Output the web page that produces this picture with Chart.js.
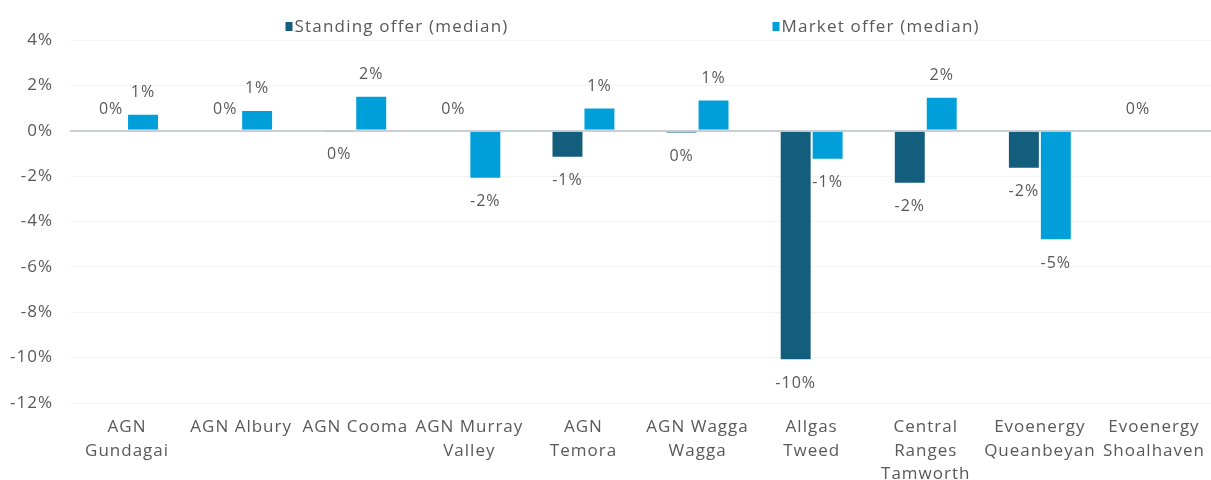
<!DOCTYPE html>
<html>
<head>
<meta charset="utf-8">
<script src="https://cdn.jsdelivr.net/npm/chart.js@4.4.1/dist/chart.umd.min.js"></script>
<style>
  html, body { margin: 0; padding: 0; background: #fff; }
  #wrap { width: 1211px; height: 480px; }
</style>
</head>
<body>
<div id="wrap"><canvas id="barCanvas"></canvas></div>
<script>
const categories = [
    ["AGN", "Gundagai"],
    ["AGN Albury"],
    ["AGN Cooma"],
    ["AGN Murray", "Valley"],
    ["AGN", "Temora"],
    ["AGN Wagga", "Wagga"],
    ["Allgas", "Tweed"],
    ["Central", "Ranges", "Tamworth"],
    ["Evoenergy", "Queanbeyan"],
    ["Evoenergy", "Shoalhaven"]
];
const standingOffer = [0, 0, -0.02, 0, -1.19, -0.1, -10.12, -2.34, -1.68, 0];
const marketOffer = [0.75, 0.92, 1.54, -2.12, 1.02, 1.38, -1.28, 1.5, -4.83, null];
const yTicks = [-12, -10, -8, -6, -4, -2, 0, 2, 4];

const textColor = "#595959";
const fontFamily = "'Open Sans', Lato, sans-serif";
const spacing = "1px";

// the original font is wide, so space the letters a bit (canvas resets it on resize)
const wideText = {
    id: "wideText",
    beforeLayout(chart) { chart.ctx.letterSpacing = spacing; },
    beforeDraw(chart) { chart.ctx.letterSpacing = spacing; }
};

// labels at the end of every bar, like excel's "outside end"
const barLabels = {
    id: "barLabels",
    afterDatasetsDraw(chart) {
        const ctx = chart.ctx;
        ctx.save();
        ctx.font = "16px " + fontFamily;
        ctx.fillStyle = textColor;
        ctx.textAlign = "center";
        ctx.textBaseline = "middle";
        chart.data.datasets.forEach((ds, i) => {
            const meta = chart.getDatasetMeta(i);
            meta.data.forEach((bar, j) => {
                const v = ds.data[j];
                if (v === null || v === undefined) return;
                let txt = Math.round(v);
                if (txt === 0) txt = 0;
                const y = v >= 0 ? bar.y - 21 : bar.y + 23;
                ctx.fillText(txt + "%", bar.x, y);
            });
        });
        ctx.restore();
    }
};

// legend drawn by hand, the two items sit far apart
const wideLegend = {
    id: "wideLegend",
    afterDraw(chart) {
        const ctx = chart.ctx;
        const area = chart.chartArea;
        const mid = (area.left + area.right) / 2;
        const items = [
            {text: chart.data.datasets[0].label, color: chart.data.datasets[0].backgroundColor, x: mid - 355},
            {text: chart.data.datasets[1].label, color: chart.data.datasets[1].backgroundColor, x: mid + 132}
        ];
        ctx.save();
        ctx.font = "17px " + fontFamily;
        ctx.letterSpacing = "1.2px";
        ctx.textBaseline = "middle";
        ctx.textAlign = "left";
        items.forEach(it => {
            ctx.fillStyle = it.color;
            ctx.fillRect(it.x, 22, 7, 9);
            ctx.fillStyle = textColor;
            ctx.fillText(it.text, it.x + 9, 27);
        });
        ctx.restore();
    }
};

const barChart = new Chart(document.getElementById("barCanvas"), {
    type: "bar",
    data: {
        labels: categories,
        datasets: [{
            label: "Standing offer (median)",
            data: standingOffer,
            backgroundColor: "#135e7c",
            borderColor: "#ffffff",
            borderWidth: 1,
            categoryPercentage: 0.56,
            barPercentage: 1
        }, {
            label: "Market offer (median)",
            data: marketOffer,
            backgroundColor: "#009fda",
            borderColor: "#ffffff",
            borderWidth: 1,
            categoryPercentage: 0.56,
            barPercentage: 1
        }]
    },
    options: {
        responsive: true,
        maintainAspectRatio: false,
        animation: false,
        layout: {
            padding: {top: 40, right: 0, left: 0, bottom: 0}
        },
        plugins: {
            legend: {display: false},
            tooltip: {enabled: false}
        },
        scales: {
            x: {
                afterFit(axis) {
                    axis.height = 77;
                    // let the last label run to the edge instead of shrinking the plot
                    axis.paddingLeft = 0;
                    axis.paddingRight = 0;
                },
                grid: {display: false, drawTicks: false},
                border: {display: false},
                ticks: {
                    color: textColor,
                    font: {family: fontFamily, size: 17, lineHeight: 1.36},
                    padding: 13,
                    maxRotation: 0,
                    autoSkip: false
                }
            },
            y: {
                min: -12,
                max: 4,
                afterBuildTicks(axis) {
                    axis.ticks = yTicks.map(v => ({value: v}));
                },
                afterFit(axis) {
                    axis.width = 70;
                },
                border: {display: false},
                grid: {
                    drawTicks: false,
                    color: ctx => ctx.tick && ctx.tick.value === 0 ? "#c9ced6" : "#f3f3f3",
                    lineWidth: ctx => ctx.tick && ctx.tick.value === 0 ? 2 : 1
                },
                ticks: {
                    color: textColor,
                    font: {family: fontFamily, size: 17},
                    padding: 17,
                    callback: v => v + "%"
                }
            }
        }
    },
    plugins: [wideText, barLabels, wideLegend]
});
</script>
</body>
</html>
